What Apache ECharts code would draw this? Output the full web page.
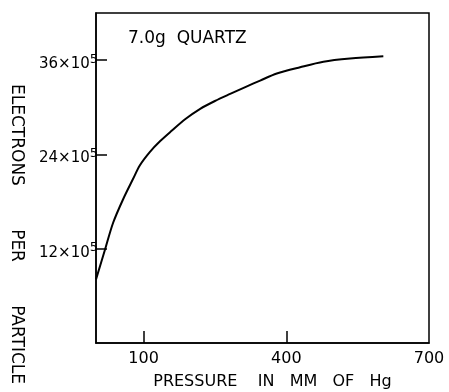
<!DOCTYPE html>
<html>
<head>
<meta charset="utf-8">
<script src="https://cdn.jsdelivr.net/npm/echarts@6/dist/echarts.min.js"></script>
<style>
  html, body { margin: 0; padding: 0; background: #fff; }
  #chart { width: 449px; height: 392px; }
</style>
</head>
<body>
<div id="chart"></div>
<script>
// pressure (mm Hg) vs electrons per particle (x10^5)
var pressure = [0, 19, 36, 57, 78, 92, 113, 135, 159, 188, 219, 250, 282, 315, 345, 380, 429, 478, 534, 604];
var electrons = [8.1, 11.9, 15.3, 18.3, 20.9, 22.6, 24.3, 25.7, 27.0, 28.5, 29.8, 30.8, 31.7, 32.6, 33.4, 34.3, 35.1, 35.8, 36.2, 36.5];
var xTicks = [100, 400];
var xLabels = [100, 400, 700];
var yTicks = [12, 24, 36];

var font = 'DejaVu Sans';
var chart = echarts.init(document.getElementById('chart'));

chart.setOption({
  animation: false,
  grid: {
    left: 96, right: 20, top: 13, bottom: 49,
    outerBoundsMode: 'none',
    show: true, borderColor: '#000', borderWidth: 1.5
  },
  xAxis: {
    type: 'value',
    min: 0, max: 700,
    name: 'PRESSURE    IN   MM   OF   Hg',
    nameLocation: 'middle',
    nameGap: 31,
    nameTextStyle: { color: '#000', fontFamily: font, fontSize: 16, padding: [0, 0, 0, 20] },
    axisLine: { lineStyle: { color: '#000', width: 1.5 } },
    axisTick: { inside: true, length: 12, customValues: xTicks, lineStyle: { color: '#000', width: 1.5 } },
    axisLabel: { customValues: xLabels, color: '#000', fontFamily: font, fontSize: 16, margin: 8 },
    splitLine: { show: false }
  },
  yAxis: {
    type: 'value',
    min: 0, max: 42,
    axisLine: { lineStyle: { color: '#000', width: 1.5 } },
    axisTick: { inside: true, length: 11, customValues: yTicks, lineStyle: { color: '#000', width: 1.5 } },
    axisLabel: {
      customValues: yTicks,
      margin: -2,
      padding: [8, 0, 0, 0],
      formatter: function (v) { return '{a|' + v + '×10}{s|5}'; },
      rich: {
        a: { color: '#000', fontFamily: font, fontSize: 15 },
        s: { color: '#000', fontFamily: font, fontSize: 13, padding: [0, 0, 10, 0] }
      }
    },
    splitLine: { show: false }
  },
  graphic: [
    {
      type: 'text',
      left: 128, top: 30,
      style: { text: '7.0g  QUARTZ', fill: '#000', font: '17px "DejaVu Sans"' }
    },
    {
      type: 'text',
      x: 8, y: 234,
      rotation: -Math.PI / 2,
      style: {
        text: 'ELECTRONS        PER        PARTICLE',
        fill: '#000', font: '17px "DejaVu Sans"',
        align: 'center', verticalAlign: 'bottom'
      }
    }
  ],
  series: [{
    type: 'line',
    data: pressure.map(function (p, i) { return [p, electrons[i]]; }),
    smooth: 0.3,
    showSymbol: false,
    lineStyle: { color: '#000', width: 2 }
  }]
});
</script>
</body>
</html>
